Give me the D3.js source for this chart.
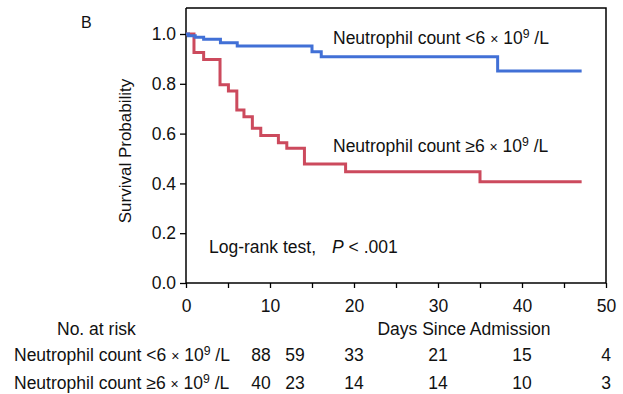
<!DOCTYPE html>
<html>
<head>
<meta charset="utf-8">
<script src="https://cdn.jsdelivr.net/npm/d3@7"></script>
<style>
  body { margin: 0; background: #fff; }
  svg { font-family: "Liberation Sans", Arial, sans-serif; }
</style>
</head>
<body>
<div id="chart"></div>
<script>
// survival steps: [day, probability]
var lowDays  = [0, 0.3, 1.1, 2.1, 4.1, 6.1, 15, 16.1, 37.1, 47.1];
var lowSurv  = [1.0, 0.993, 0.987, 0.979, 0.965, 0.952, 0.929, 0.909, 0.851, 0.851];
var highDays = [0, 0.95, 2.1, 4.05, 5.05, 6.05, 6.9, 7.9, 8.9, 11, 12, 14.1, 19, 35, 47.1];
var highSurv = [1.0, 0.926, 0.898, 0.796, 0.771, 0.695, 0.668, 0.621, 0.592, 0.563, 0.541, 0.478, 0.447, 0.407, 0.407];

var xTicks = [0, 10, 20, 30, 40, 50];
var yTicks = [0, 0.2, 0.4, 0.6, 0.8, 1.0];
var riskTimes = [0, 10, 20, 30, 40, 50];
var riskLow  = [88, 59, 33, 21, 15, 4];
var riskHigh = [40, 23, 14, 14, 10, 3];
var groupNames = ["<6", "\u22656"];
var colors = ["#4170d6", "#cc4a5d"];

var W = 623, H = 394;
var FS = 17.5;
var svg = d3.select("#chart").append("svg").attr("width", W).attr("height", H);

var x = d3.scaleLinear().domain([0, 50]).range([186, 606]);
var y = d3.scaleLinear().domain([0, 1]).range([283, 34]);
var yTop = 8;

// frame (top and right)
svg.append("path")
  .attr("d", "M" + x(0) + "," + yTop + "H" + x(50) + "V" + y(0))
  .attr("fill", "none").attr("stroke", "#000").attr("stroke-width", 1.5);

// x axis
var xAxis = d3.axisBottom(x).tickValues(d3.range(0, 51, 5)).tickSize(5)
  .tickFormat(function(d) { return xTicks.indexOf(d) >= 0 ? d : ""; });
var gx = svg.append("g").attr("transform", "translate(0," + y(0) + ")").call(xAxis);
gx.select(".domain").attr("stroke-width", 1.5).attr("d", "M" + x(0) + ",0H" + x(50));
gx.selectAll(".tick line").attr("stroke-width", 1.3);
gx.selectAll("text").attr("font-size", FS).attr("fill", "#111").attr("y", 29).attr("dy", 0);

// y axis
var yAxis = d3.axisLeft(y).tickValues(yTicks).tickSize(6).tickFormat(d3.format(".1f"));
var gy = svg.append("g").attr("transform", "translate(" + x(0) + ",0)").call(yAxis);
gy.select(".domain").attr("stroke-width", 1.5).attr("d", "M0," + y(0) + "V" + yTop);
gy.selectAll(".tick line").attr("stroke-width", 1.3);
gy.selectAll("text").attr("font-size", FS).attr("fill", "#111").attr("x", -10);

svg.append("text")
  .attr("transform", "translate(131,151) rotate(-90)")
  .attr("text-anchor", "middle").attr("font-size", 17).attr("fill", "#111")
  .text("Survival Probability");

svg.append("text").attr("x", 81).attr("y", 28).attr("font-size", 16).attr("fill", "#111").text("B");

// curves
var line = d3.line().curve(d3.curveStepAfter)
  .x(function(d) { return x(d[0]); }).y(function(d) { return y(d[1]); });

var series = [d3.zip(lowDays, lowSurv), d3.zip(highDays, highSurv)];
// draw red first so blue sits on top at the start
[1, 0].forEach(function(i) {
  svg.append("path").datum(series[i]).attr("d", line)
    .attr("fill", "none").attr("stroke", colors[i]).attr("stroke-width", 3);
});

function neutroLabel(sel, g) {
  sel.append("tspan").text("Neutrophil count " + groupNames[g] + " ");
  sel.append("tspan").attr("font-size", "0.8em").text("\u00d7");
  sel.append("tspan").text(" 10");
  sel.append("tspan").attr("font-size", "0.7em").attr("dy", "-0.45em").text("9");
  sel.append("tspan").attr("dy", "0.32em").text(" /L");
}

svg.append("text").attr("x", 333).attr("y", 44).attr("font-size", FS).attr("fill", "#111")
  .call(neutroLabel, 0);
svg.append("text").attr("x", 333).attr("y", 152).attr("font-size", FS).attr("fill", "#111")
  .call(neutroLabel, 1);

var lr = svg.append("text").attr("x", 209).attr("y", 253).attr("font-size", FS).attr("fill", "#111");
lr.append("tspan").text("Log-rank test,");
lr.append("tspan").attr("dx", 16).attr("font-style", "italic").text("P");
lr.append("tspan").text(" < .001");

// risk table
svg.append("text").attr("x", 57).attr("y", 335).attr("font-size", FS).attr("fill", "#111").text("No. at risk");
svg.append("text").attr("x", 464).attr("y", 335).attr("text-anchor", "middle")
  .attr("font-size", FS).attr("fill", "#111").text("Days Since Admission");

var rowY = [361, 389];
var riskRows = [riskLow, riskHigh];
// first two columns are pushed right of the row labels
function colX(i) { return i < 2 ? 261 + i * 34 : x(riskTimes[i]); }

riskRows.forEach(function(row, g) {
  svg.append("text").attr("x", 14).attr("y", rowY[g]).attr("font-size", FS).attr("fill", "#111")
    .call(neutroLabel, g);
  svg.selectAll(null).data(row).enter().append("text")
    .attr("x", function(d, i) { return colX(i); })
    .attr("y", rowY[g]).attr("text-anchor", "middle")
    .attr("font-size", FS).attr("fill", "#111")
    .text(function(d) { return d; });
});
</script>
</body>
</html>
